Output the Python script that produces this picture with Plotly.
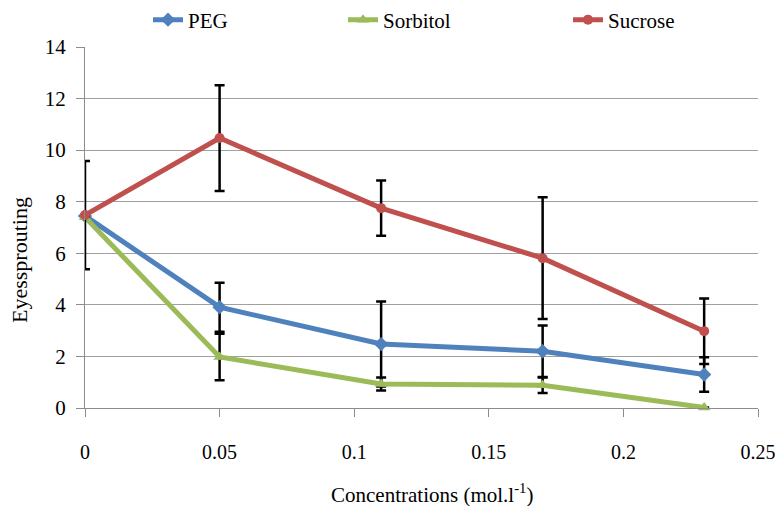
import plotly.graph_objects as go

conc = [0, 0.05, 0.11, 0.17, 0.23]
peg = [7.45, 3.91, 2.48, 2.2, 1.3]
peg_err = [0.0, 0.95, 1.65, 1.0, 0.67]
sorbitol = [7.4, 1.98, 0.93, 0.88, 0.02]
sorbitol_err = [0.0, 0.9, 0.25, 0.3, 0.0]
sucrose = [7.48, 10.47, 7.75, 5.81, 2.98]
sucrose_err = [2.1, 2.05, 1.07, 2.36, 1.27]

x_ticks = [0, 0.05, 0.1, 0.15, 0.2, 0.25]
x_ticklabels = ["0", "0.05", "0.1", "0.15", "0.2", "0.25"]
y_ticks = [0, 2, 4, 6, 8, 10, 12, 14]
x_title = "Concentrations (mol.l<sup>-1</sup>)"
y_title = "Eyessprouting"

FONT = "Liberation Serif, Times New Roman, DejaVu Serif, serif"

# page body adds an 8px offset; figure is sized to fit the window
W, H = 775, 498
ML, MR, MT, MB = 77, 25, 39, 98
PW, PH = W - ML - MR, H - MT - MB

series = [
    ("PEG", peg, peg_err, "#4F81BD", "diamond", 11, "legend"),
    ("Sorbitol", sorbitol, sorbitol_err, "#9BBB59", "triangle-up", 11, "legend2"),
    ("Sucrose", sucrose, sucrose_err, "#C0504D", "circle", 10, "legend3"),
]

fig = go.Figure()
for name, vals, errs, color, sym, msize, leg in series:
    fig.add_trace(go.Scatter(
        x=conc, y=vals, name=name, mode="lines+markers",
        line=dict(color=color, width=5),
        marker=dict(symbol=sym, size=msize, color=color),
        error_y=dict(type="data", array=errs, visible=True, color="black",
                     thickness=2.5, width=5),
        legend=leg, cliponaxis=False,
    ))

def leg(xpx):
    return dict(orientation="h", font=dict(family=FONT, size=21, color="black"),
                bgcolor="rgba(0,0,0,0)", xref="container", yref="container",
                yanchor="middle", xanchor="left", y=1 - 12 / H, x=xpx / W,
                itemwidth=30)

fig.update_layout(
    width=W, height=H,
    paper_bgcolor="white", plot_bgcolor="white",
    margin=dict(l=ML, r=MR, t=MT, b=MB, autoexpand=False),
    font=dict(family=FONT, size=21, color="black"),
    showlegend=True,
    legend=leg(140),
    legend2=leg(335),
    legend3=leg(560),
    xaxis=dict(
        range=[0, 0.25], tickvals=x_ticks, ticktext=x_ticklabels,
        showgrid=False, zeroline=False, automargin=False,
        showline=True, linecolor="#8c8c8c", linewidth=1.2,
        ticks="outside", ticklen=8, tickcolor="#8c8c8c", tickwidth=1.2,
        ticklabelstandoff=18, ticklabeloverflow="allow",
        tickfont=dict(family=FONT, size=20, color="black"),
    ),
    yaxis=dict(
        range=[0, 14], tickvals=y_ticks, automargin=False,
        showgrid=True, gridcolor="#a0a0a0", gridwidth=1.2, zeroline=False,
        showline=True, linecolor="#8c8c8c", linewidth=1.2,
        ticks="outside", ticklen=8, tickcolor="#8c8c8c", tickwidth=1.2,
        ticklabelstandoff=6, ticklabeloverflow="allow",
        tickfont=dict(family=FONT, size=21, color="black"),
    ),
    annotations=[
        dict(text=x_title, xref="paper", yref="paper",
             x=(424 - ML) / PW, y=(MT + PH - 485) / PH,
             xanchor="center", yanchor="middle", showarrow=False,
             font=dict(family=FONT, size=21, color="black")),
        dict(text=y_title, xref="paper", yref="paper",
             x=(12 - ML) / PW, y=(MT + PH - 252) / PH, textangle=-90,
             xanchor="center", yanchor="middle", showarrow=False,
             font=dict(family=FONT, size=22, color="black")),
    ],
)

fig.write_html("out.html")
